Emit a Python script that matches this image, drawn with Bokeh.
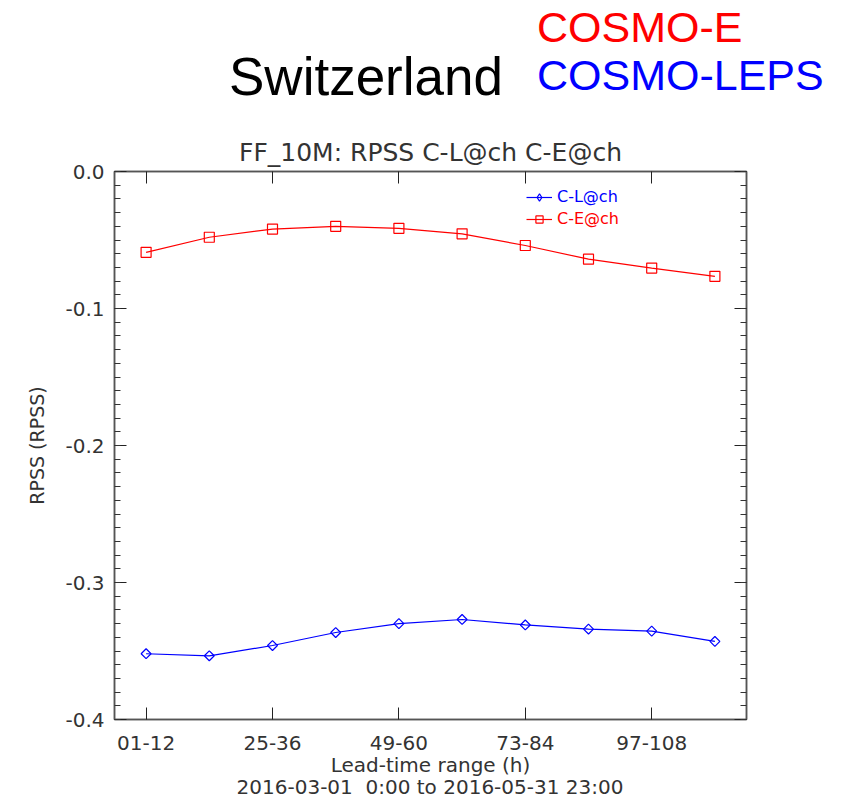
import math
from bokeh.plotting import figure
from bokeh.layouts import column
from bokeh.models import (Range1d, LinearAxis, FixedTicker, PrintfTickFormatter,
                          Legend, LegendItem, Div)
from bokeh.embed import file_html
from bokeh.resources import INLINE

# ---- data ----
categories = ["01-12", "13-24", "25-36", "37-48", "49-60",
              "61-72", "73-84", "85-96", "97-108", "109-120"]
xpos = list(range(len(categories)))
cosmo_e = [-0.059, -0.048, -0.042, -0.040, -0.0415,
           -0.0455, -0.054, -0.064, -0.0705, -0.0765]
cosmo_leps = [-0.352, -0.3535, -0.346, -0.3365, -0.330,
              -0.327, -0.331, -0.334, -0.3355, -0.343]
xtick_idx = [0, 2, 4, 6, 8]
ytick_vals = [0.0, -0.1, -0.2, -0.3, -0.4]
yminor_vals = [round(-0.01 * i, 2) for i in range(41)]
header_texts = ["Switzerland", "COSMO-E", "COSMO-LEPS"]
header_colors = ["black", "#ff0000", "#0000ff"]
date_text = "2016-03-01&nbsp; 0:00 to 2016-05-31 23:00"

TXT = "#333333"
FONT = "DejaVu Sans"
HEAD_H = 110
FOOT_H = 20
PLOT_H = 799 - HEAD_H - FOOT_H

# ---- header (HTML text) ----
span = ("<span style='position:absolute;left:{l}px;top:{t}px;font-family:\"Liberation Sans\";"
        "font-size:{fs}px;line-height:1;white-space:nowrap;color:{c}'>{txt}</span>")
header_html = ("<div style='position:relative;width:841px;height:%dpx'>" % HEAD_H
               + span.format(l=229, t=50, fs=53, c=header_colors[0], txt=header_texts[0])
               + span.format(l=537, t=6, fs=43, c=header_colors[1], txt=header_texts[1])
               + span.format(l=537, t=54, fs=43, c=header_colors[2], txt=header_texts[2])
               + "</div>")
head = Div(text=header_html, width=841, height=HEAD_H, margin=(0, 0, 0, 0))

# ---- footer: period line under the x axis label ----
foot_html = ("<div style='position:relative;width:841px;height:%dpx'>" % FOOT_H
             + "<div style='position:absolute;left:114px;width:632px;top:-2px;text-align:center;"
               "font-family:\"DejaVu Sans\";font-size:20px;line-height:20px;white-space:nowrap;"
               "color:%s'>%s</div>" % (TXT, date_text)
             + "</div>")
foot = Div(text=foot_html, width=841, height=FOOT_H, margin=(0, 0, 0, 0))

# ---- main plot ----
p = figure(width=841, height=PLOT_H, output_backend="svg", toolbar_location=None,
           x_range=Range1d(-0.5, 9.5), y_range=Range1d(-0.4, 0.0),
           min_border_left=114, min_border_right=95,
           min_border_top=171 - HEAD_H, min_border_bottom=PLOT_H - (721 - HEAD_H))
p.grid.visible = False
p.outline_line_color = "#555555"
p.outline_line_width = 1.5

p.title.text = "FF_10M: RPSS C-L@ch C-E@ch"
p.title.align = "center"
p.title.text_font = FONT
p.title.text_font_size = "25px"
p.title.text_font_style = "normal"
p.title.text_color = TXT
p.title.standoff = 9


def style_axis(ax, labels=True):
    ax.axis_line_color = "#555555"
    ax.axis_line_width = 1.5
    ax.major_tick_in = 12
    ax.major_tick_out = 0
    ax.minor_tick_in = 6
    ax.minor_tick_out = 0
    ax.major_tick_line_color = "#222222"
    ax.minor_tick_line_color = "#333333"
    ax.major_label_text_font = FONT
    ax.major_label_text_color = TXT
    ax.major_label_text_font_size = "20px"
    ax.axis_label_text_font = FONT
    ax.axis_label_text_color = TXT
    ax.axis_label_text_font_style = "normal"
    if not labels:
        ax.major_label_standoff = 0


# bottom axis
xb = p.xaxis[0]
xb.ticker = FixedTicker(ticks=xtick_idx, minor_ticks=[])
xb.major_label_overrides = {i: categories[i] for i in xtick_idx}
style_axis(xb)
xb.major_label_standoff = 16
xb.axis_label = "Lead-time range (h)"
xb.axis_label_text_font_size = "20px"
xb.axis_label_standoff = 0

# top axis (ticks only)
xt = LinearAxis(ticker=FixedTicker(ticks=xtick_idx, minor_ticks=[]))
style_axis(xt, labels=False)
xt.major_label_overrides = {i: "" for i in xtick_idx}
p.add_layout(xt, "above")

# left axis
yl = p.yaxis[0]
yl.ticker = FixedTicker(ticks=ytick_vals, minor_ticks=yminor_vals)
yl.formatter = PrintfTickFormatter(format="%.1f")
style_axis(yl)
yl.major_label_standoff = 10
yl.axis_label = "RPSS (RPSS)"
yl.axis_label_text_font_size = "19px"
yl.axis_label_standoff = 14

# right axis (ticks only)
yr = LinearAxis(ticker=FixedTicker(ticks=ytick_vals, minor_ticks=yminor_vals))
style_axis(yr, labels=False)
yr.major_label_overrides = {v: "" for v in ytick_vals}
p.add_layout(yr, "right")

# series
l_leps = p.line(xpos, cosmo_leps, line_color="#0000ff", line_width=1.2)
s_leps = p.scatter(xpos, cosmo_leps, marker="square", angle=math.pi / 4, size=7,
                   fill_color=None, line_color="#0000ff", line_width=1.2)
# legend-only diamond (no visible points)
leg_leps = p.scatter(xpos, [float("nan")] * len(xpos), marker="diamond", size=11,
                     fill_color=None, line_color="#0000ff", line_width=1.2)
l_e = p.line(xpos, cosmo_e, line_color="#ff0000", line_width=1.2)
s_e = p.scatter(xpos, cosmo_e, marker="square", size=10,
                fill_color=None, line_color="#ff0000", line_width=1.2)

for label, rends, color, loc in [("C-L@ch", [l_leps, leg_leps], "#0000ff", (412, 513)),
                                 ("C-E@ch", [l_e, s_e], "#ff0000", (412, 491))]:
    lg = Legend(items=[LegendItem(label=label, renderers=rends)], location=loc,
                border_line_color=None, background_fill_alpha=0,
                padding=0, margin=0, spacing=0,
                glyph_width=26, glyph_height=18, label_height=18,
                label_standoff=5, label_text_font=FONT,
                label_text_font_size="16px", label_text_color=color)
    p.add_layout(lg)

layout = column(head, p, foot, spacing=0)
open("out.html", "w").write(file_html(layout, INLINE))
